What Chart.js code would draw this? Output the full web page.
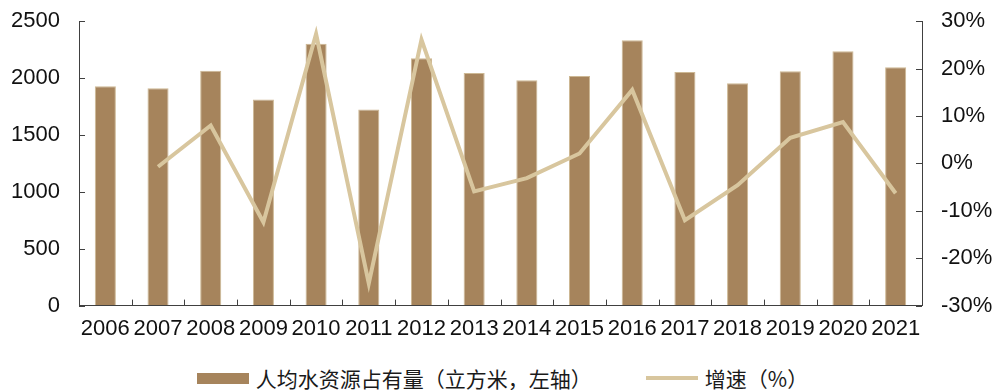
<!DOCTYPE html>
<html>
<head>
<meta charset="utf-8">
<script src="https://cdn.jsdelivr.net/npm/chart.js@4/dist/chart.umd.min.js"></script>
<style>
  body { margin: 0; background: #fff; overflow: hidden; }
  #wrap { width: 1005px; height: 368px; position: relative; margin-top: -11px; }
  #legend {
    display: flex; justify-content: center; align-items: center;
    width: 1005px; height: 30px; margin-top: 6px;
    font-family: "Noto Sans CJK SC", sans-serif; font-size: 21px; color: #1a1a1a;
  }
  .item { display: flex; align-items: center; }
  .swatchBar { width: 52px; height: 11px; background: #A6845C; margin-right: 7px; }
  .swatchLine { width: 52px; height: 4px; background: #D8C69E; margin-right: 7px; }
</style>
</head>
<body>
<div id="wrap"><canvas id="waterChart"></canvas></div>
<div id="legend">
  <div class="item" style="margin-right:54px"><div class="swatchBar"></div>人均水资源占有量（立方米，左轴）</div>
  <div class="item"><div class="swatchLine"></div>增速（%）</div>
</div>
<script>
const years = ['2006','2007','2008','2009','2010','2011','2012','2013','2014','2015','2016','2017','2018','2019','2020','2021']
// per-capita water resources, m3
const perCapita = [1928, 1910, 2065, 1811, 2302, 1723, 2174, 2045, 1981, 2019, 2332, 2054, 1954, 2059, 2235, 2095]
// year-on-year growth, %
const growth = [null, -0.7, 8.0, -12.4, 27.3, -25.3, 26.1, -5.9, -3.1, 2.1, 15.5, -12.0, -4.6, 5.4, 8.7, -6.3]

const axisColor = '#404040'

// short tick marks pointing into the plot area
const innerTicks = {
    id: 'innerTicks',
    afterDraw(chart){
        const ctx = chart.ctx
        const area = chart.chartArea
        const len = 6
        ctx.save()
        ctx.strokeStyle = axisColor
        ctx.lineWidth = 1
        ctx.beginPath()
        const yl = chart.scales.y
        yl.ticks.forEach((t, i) => {
            const py = Math.round(yl.getPixelForTick(i)) + 0.5
            ctx.moveTo(area.left, py)
            ctx.lineTo(area.left + len, py)
        })
        const yr = chart.scales.y1
        yr.ticks.forEach((t, i) => {
            const py = Math.round(yr.getPixelForTick(i)) + 0.5
            ctx.moveTo(area.right, py)
            ctx.lineTo(area.right - len, py)
        })
        const xs = chart.scales.x
        const step = (area.right - area.left) / years.length
        for (let i = 1; i < years.length; i++) {
            const px = Math.round(xs.getPixelForValue(i) - step / 2) + 0.5
            ctx.moveTo(px, area.bottom)
            ctx.lineTo(px, area.bottom - len)
        }
        ctx.stroke()
        ctx.restore()
    }
}

const tickFont = { family: 'Liberation Sans, Arial, sans-serif', size: 22 }

const data = {
    labels: years,
    datasets: [{
        type: 'line',
        label: '增速（%）',
        data: growth,
        yAxisID: 'y1',
        borderColor: '#D8C69E',
        borderWidth: 4,
        pointRadius: 0,
        tension: 0,
        order: 0
    }, {
        type: 'bar',
        label: '人均水资源占有量（立方米，左轴）',
        data: perCapita,
        yAxisID: 'y',
        backgroundColor: '#A6845C',
        borderColor: '#CDB894',
        borderWidth: { left: 1, right: 1, top: 1, bottom: 0 },
        barPercentage: 0.4,
        categoryPercentage: 1,
        order: 1
    }]
}

const config = {
    data: data,
    options: {
        responsive: true,
        maintainAspectRatio: false,
        animation: false,
        layout: { padding: { top: 7, bottom: 5, left: 0, right: 0 } },
        plugins: {
            legend: { display: false },
            tooltip: { enabled: false }
        },
        scales: {
            x: {
                grid: { display: true, drawOnChartArea: false, drawTicks: false },
                border: { display: true, color: axisColor, width: 1 },
                ticks: { color: '#111', font: tickFont, padding: 10, maxRotation: 0, autoSkip: false }
            },
            y: {
                position: 'left',
                min: 0, max: 2500,
                grid: { display: true, drawOnChartArea: false, drawTicks: false },
                border: { display: true, color: axisColor, width: 1 },
                ticks: { stepSize: 500, color: '#111', font: tickFont, padding: 19, callback: v => String(v) },
                afterFit(scale){ scale.width = 79 }
            },
            y1: {
                position: 'right',
                min: -30, max: 30,
                grid: { display: true, drawOnChartArea: false, drawTicks: false },
                border: { display: true, color: axisColor, width: 1 },
                ticks: { stepSize: 10, color: '#111', font: tickFont, padding: 19, callback: v => v + '%' },
                afterFit(scale){ scale.width = 83 }
            }
        }
    },
    plugins: [innerTicks]
}

const myChart = new Chart(document.getElementById('waterChart'), config)
</script>
</body>
</html>
